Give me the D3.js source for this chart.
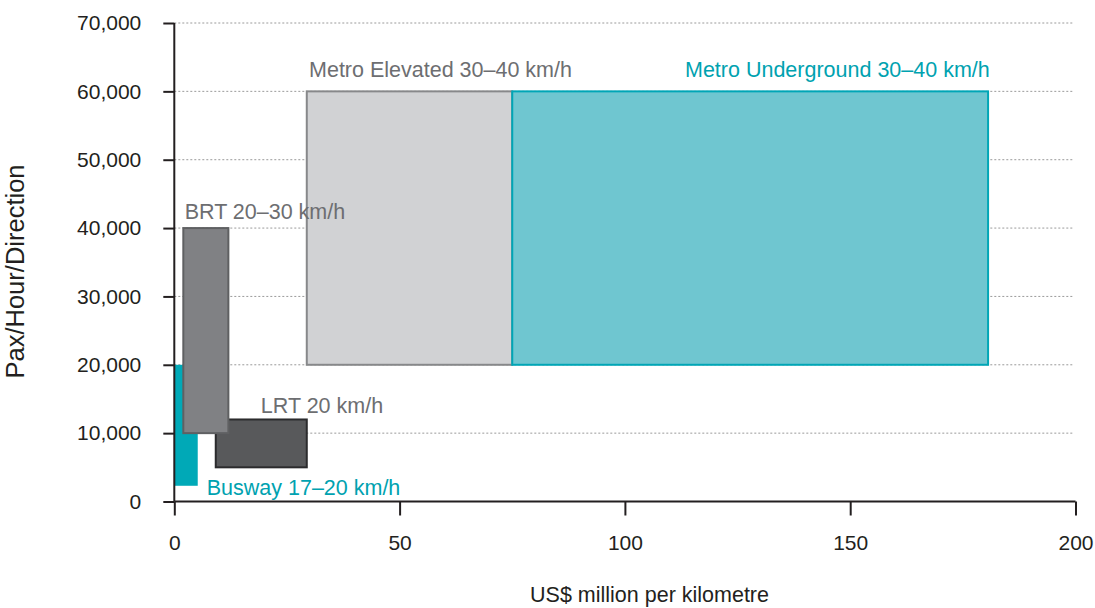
<!DOCTYPE html>
<html>
<head>
<meta charset="utf-8">
<script src="https://cdn.jsdelivr.net/npm/d3@7"></script>
<style>
  body { margin: 0; background: #fff; }
  svg { display: block; font-family: "Liberation Sans", Arial, sans-serif; }
</style>
</head>
<body>
<svg id="chart" width="1095" height="608"></svg>
<script>
  // Cost (US$ million / km) vs capacity (pax/hour/direction) ranges
  var modes = ['Busway', 'LRT', 'BRT', 'Metro Elevated', 'Metro Underground'];
  var costMin = [0, 9.2, 2, 29.4, 75];
  var costMax = [5.2, 29.4, 12, 75, 180.6];
  var paxMin = [2300, 5000, 10000, 20000, 20000];
  var paxMax = [20000, 12000, 40000, 60000, 60000];
  var labels = ['Busway 17\u201320 km/h', 'LRT 20 km/h', 'BRT 20\u201330 km/h',
    'Metro Elevated 30\u201340 km/h', 'Metro Underground 30\u201340 km/h'];

  var xTicks = [0, 50, 100, 150, 200];
  var yTicks = [0, 10000, 20000, 30000, 40000, 50000, 60000, 70000];

  var fills = ['#00a9b7', '#58595b', '#808184', '#d1d2d4', '#6fc6d0'];
  var strokes = ['none', '#2b2b2d', '#5f6062', '#87888a', '#00a6b6'];
  var labelColors = ['#00a2b0', '#6d6e71', '#6d6e71', '#6d6e71', '#00a2b0'];

  var svg = d3.select('#chart');

  var x = d3.scaleLinear().domain([0, 200]).range([174.3, 1075.5]);
  var y = d3.scaleLinear().domain([0, 70000]).range([501.5, 23]);

  // dotted gridlines
  svg.append('g').selectAll('line.grid')
    .data(yTicks.slice(1))
    .enter().append('line')
    .attr('class', 'grid')
    .attr('x1', x(0)).attr('x2', 1073)
    .attr('y1', function (d) { return y(d); })
    .attr('y2', function (d) { return y(d); })
    .attr('stroke', '#9a9a9a')
    .attr('stroke-width', 1)
    .attr('stroke-dasharray', '2,2');

  // range boxes, drawn in order so BRT sits over busway and LRT
  var data = modes.map(function (m, i) {
    return { mode: m, x0: costMin[i], x1: costMax[i], y0: paxMin[i], y1: paxMax[i], i: i };
  });
  svg.append('g').selectAll('rect.box')
    .data(data)
    .enter().append('rect')
    .attr('class', 'box')
    .attr('x', function (d) { return x(d.x0); })
    .attr('y', function (d) { return y(d.y1); })
    .attr('width', function (d) { return x(d.x1) - x(d.x0); })
    .attr('height', function (d) { return y(d.y0) - y(d.y1); })
    .attr('fill', function (d) { return fills[d.i]; })
    .attr('stroke', function (d) { return strokes[d.i]; })
    .attr('stroke-width', 2);

  // axes
  var yAxis = d3.axisLeft(y).tickValues(yTicks).tickSize(11).tickSizeOuter(0)
    .tickPadding(22).tickFormat(d3.format(','));
  var gy = svg.append('g').attr('transform', 'translate(' + x(0) + ',0)').call(yAxis);

  var xAxis = d3.axisBottom(x).tickValues(xTicks).tickSize(14).tickSizeOuter(0)
    .tickPadding(20).tickFormat(d3.format('d'));
  var gx = svg.append('g').attr('transform', 'translate(0,' + y(0) + ')').call(xAxis);

  [gx, gy].forEach(function (g) {
    g.select('.domain').remove();
    g.selectAll('.tick line').attr('stroke', '#231f20').attr('stroke-width', 2);
    g.selectAll('.tick text').attr('fill', '#231f20')
      .style('font-size', '21px').style('font-family', '"Liberation Sans", Arial, sans-serif');
  });

  svg.append('line')
    .attr('x1', x(0)).attr('x2', x(0)).attr('y1', y(70000)).attr('y2', y(0))
    .attr('stroke', '#231f20').attr('stroke-width', 2);
  svg.append('line')
    .attr('x1', x(0)).attr('x2', x(200)).attr('y1', y(0)).attr('y2', y(0))
    .attr('stroke', '#231f20').attr('stroke-width', 2);

  // box labels (left x, baseline y)
  var labelPos = [
    [x(5.2) + 9, 495],
    [x(19.2), 412.7],
    [x(2.3), 219.3],
    [x(29.9), 77.3],
    [685, 77.3]
  ];

  svg.append('g').selectAll('text.lbl')
    .data(data)
    .enter().append('text')
    .attr('class', 'lbl')
    .attr('x', function (d) { return labelPos[d.i][0]; })
    .attr('y', function (d) { return labelPos[d.i][1]; })
    .attr('fill', function (d) { return labelColors[d.i]; })
    .style('font-size', '21.5px')
    .text(function (d) { return labels[d.i]; });

  // axis titles
  svg.append('text')
    .attr('x', 649.5).attr('y', 602)
    .attr('text-anchor', 'middle')
    .attr('fill', '#231f20')
    .style('font-size', '21.5px')
    .text('US$ million per kilometre');

  svg.append('text')
    .attr('transform', 'translate(24,271.5) rotate(-90)')
    .attr('text-anchor', 'middle')
    .attr('fill', '#231f20')
    .style('font-size', '25.5px')
    .text('Pax/Hour/Direction');
</script>
</body>
</html>
